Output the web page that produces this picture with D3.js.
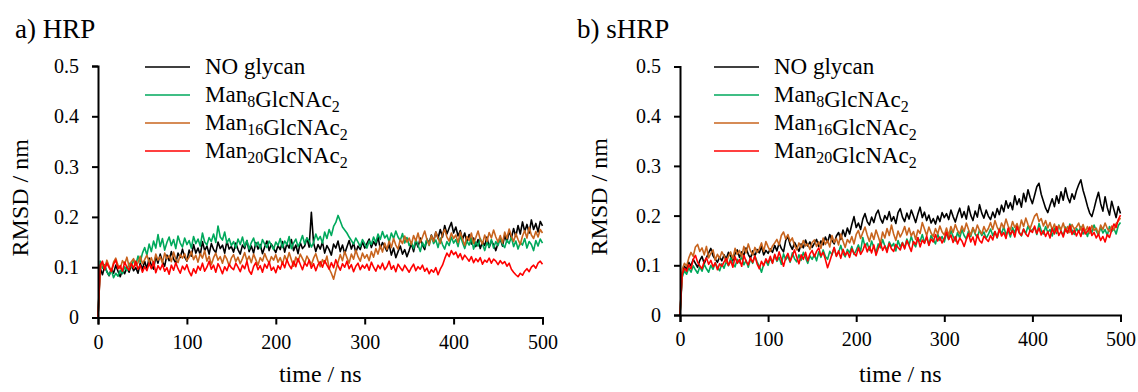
<!DOCTYPE html>
<html>
<head>
<meta charset="utf-8">
<script src="https://cdn.jsdelivr.net/npm/d3@7"></script>
<style>
  body { margin: 0; background: #fff; }
  svg { display: block; }
</style>
</head>
<body>
<div id="chart"></div>
<script>
const FONT = 'Liberation Serif';

// time axis (ns), one frame every 2.5 ns
const time = d3.range(0, 500.01, 2.5);

const seriesLabels = [
  [['NO glycan', null]],
  [['Man', '8'], ['GlcNAc', '2']],
  [['Man', '16'], ['GlcNAc', '2']],
  [['Man', '20'], ['GlcNAc', '2']]
];
const colors = ['#000000', '#00a95c', '#c8641e', '#ff0000'];
const yTicks = [0, 0.1, 0.2, 0.3, 0.4, 0.5];
const xTicks = [0, 100, 200, 300, 400, 500];

// a) HRP
const hrpNoGlycan = [0,
  0.098, 0.085, 0.102, 0.091, 0.083, 0.097, 0.088, 0.104, 0.092, 0.081, 0.095, 0.087, 0.100, 0.090, 0.106, 0.093, 0.099, 0.088, 0.108, 0.096,
  0.112, 0.097, 0.118, 0.104, 0.096, 0.121, 0.108, 0.126, 0.111, 0.102, 0.124, 0.113, 0.131, 0.116, 0.108, 0.128, 0.119, 0.136, 0.120, 0.112,
  0.134, 0.122, 0.145, 0.128, 0.138, 0.124, 0.151, 0.133, 0.142, 0.126, 0.147, 0.135, 0.129, 0.150, 0.137, 0.144, 0.128, 0.152, 0.136, 0.141,
  0.130, 0.148, 0.135, 0.126, 0.144, 0.137, 0.153, 0.131, 0.142, 0.128, 0.149, 0.136, 0.145, 0.127, 0.140, 0.152, 0.133, 0.146, 0.138, 0.129,
  0.143, 0.135, 0.151, 0.130, 0.147, 0.138, 0.155, 0.133, 0.144, 0.127, 0.149, 0.137, 0.142, 0.158, 0.140, 0.209, 0.148, 0.131, 0.145, 0.136,
  0.150, 0.128, 0.143, 0.135, 0.124, 0.146, 0.138, 0.152, 0.131, 0.144, 0.127, 0.140, 0.153, 0.136, 0.148, 0.129, 0.142, 0.135, 0.150, 0.138,
  0.147, 0.156, 0.139, 0.151, 0.143, 0.160, 0.137, 0.149, 0.141, 0.132, 0.145, 0.124, 0.138, 0.119, 0.131, 0.142, 0.126, 0.135, 0.121, 0.133,
  0.147, 0.131, 0.152, 0.140, 0.158, 0.144, 0.135, 0.156, 0.148, 0.164, 0.151, 0.170, 0.157, 0.175, 0.160, 0.183, 0.166, 0.178, 0.189, 0.168,
  0.180, 0.162, 0.173, 0.155, 0.168, 0.150, 0.165, 0.146, 0.158, 0.141, 0.155, 0.137, 0.150, 0.143, 0.160, 0.139, 0.152, 0.145, 0.133, 0.148,
  0.156, 0.142, 0.163, 0.150, 0.172, 0.158, 0.177, 0.161, 0.183, 0.166, 0.190, 0.171, 0.185, 0.168, 0.194, 0.175, 0.187, 0.170, 0.191, 0.182];
const hrpMan8 = [0,
  0.112, 0.098, 0.105, 0.091, 0.084, 0.095, 0.079, 0.088, 0.082, 0.094, 0.087, 0.101, 0.093, 0.108, 0.099, 0.115, 0.104, 0.122, 0.110, 0.128,
  0.139, 0.124, 0.146, 0.131, 0.152, 0.138, 0.165, 0.141, 0.157, 0.134, 0.149, 0.160, 0.143, 0.155, 0.137, 0.162, 0.148, 0.140, 0.158, 0.145,
  0.153, 0.138, 0.161, 0.147, 0.156, 0.142, 0.168, 0.150, 0.144, 0.159, 0.151, 0.166, 0.149, 0.182, 0.160, 0.154, 0.170, 0.148, 0.157, 0.143,
  0.151, 0.138, 0.156, 0.145, 0.160, 0.141, 0.153, 0.136, 0.149, 0.158, 0.142, 0.150, 0.137, 0.155, 0.146, 0.139, 0.152, 0.144, 0.135, 0.150,
  0.143, 0.157, 0.139, 0.152, 0.145, 0.161, 0.137, 0.148, 0.156, 0.141, 0.150, 0.163, 0.146, 0.158, 0.152, 0.140, 0.149, 0.166, 0.154, 0.161,
  0.148, 0.170, 0.157, 0.175, 0.163, 0.181, 0.189, 0.203, 0.192, 0.180, 0.174, 0.168, 0.160, 0.153, 0.146, 0.158, 0.150, 0.141, 0.155, 0.147,
  0.138, 0.152, 0.145, 0.160, 0.149, 0.166, 0.155, 0.171, 0.158, 0.164, 0.150, 0.168, 0.157, 0.172, 0.160, 0.153, 0.167, 0.148, 0.159, 0.143,
  0.150, 0.137, 0.155, 0.144, 0.131, 0.149, 0.140, 0.156, 0.143, 0.162, 0.147, 0.154, 0.139, 0.158, 0.145, 0.136, 0.151, 0.143, 0.160, 0.148,
  0.155, 0.141, 0.163, 0.149, 0.137, 0.152, 0.144, 0.158, 0.136, 0.150, 0.142, 0.157, 0.146, 0.133, 0.149, 0.140, 0.155, 0.138, 0.151, 0.143,
  0.158, 0.145, 0.139, 0.154, 0.147, 0.160, 0.141, 0.152, 0.136, 0.149, 0.144, 0.157, 0.138, 0.151, 0.145, 0.133, 0.153, 0.142, 0.156, 0.148];
const hrpMan16 = [0,
  0.095, 0.108, 0.099, 0.114, 0.102, 0.092, 0.110, 0.118, 0.104, 0.097, 0.113, 0.106, 0.120, 0.101, 0.111, 0.117, 0.103, 0.109, 0.122, 0.107,
  0.115, 0.124, 0.110, 0.119, 0.105, 0.126, 0.114, 0.121, 0.108, 0.128, 0.117, 0.123, 0.111, 0.130, 0.116, 0.109, 0.125, 0.118, 0.127, 0.113,
  0.120, 0.131, 0.115, 0.124, 0.110, 0.127, 0.118, 0.133, 0.112, 0.122, 0.105, 0.119, 0.128, 0.114, 0.121, 0.108, 0.124, 0.116, 0.103, 0.118,
  0.125, 0.111, 0.120, 0.107, 0.117, 0.129, 0.113, 0.122, 0.109, 0.126, 0.115, 0.104, 0.119, 0.112, 0.127, 0.116, 0.108, 0.121, 0.114, 0.125,
  0.110, 0.119, 0.106, 0.123, 0.113, 0.129, 0.115, 0.102, 0.120, 0.111, 0.126, 0.117, 0.108, 0.122, 0.114, 0.105, 0.118, 0.127, 0.112, 0.101,
  0.115, 0.108, 0.122, 0.097, 0.088, 0.076, 0.094, 0.110, 0.125, 0.113, 0.131, 0.119, 0.108, 0.126, 0.116, 0.134, 0.121, 0.112, 0.128, 0.118,
  0.125, 0.113, 0.131, 0.120, 0.137, 0.126, 0.143, 0.130, 0.148, 0.135, 0.152, 0.139, 0.157, 0.144, 0.136, 0.155, 0.147, 0.162, 0.150, 0.158,
  0.145, 0.163, 0.152, 0.168, 0.149, 0.160, 0.172, 0.155, 0.144, 0.163, 0.151, 0.170, 0.158, 0.147, 0.166, 0.175, 0.160, 0.152, 0.168, 0.157,
  0.164, 0.149, 0.170, 0.156, 0.143, 0.161, 0.153, 0.168, 0.147, 0.159, 0.172, 0.155, 0.146, 0.164, 0.151, 0.169, 0.158, 0.174, 0.160, 0.150,
  0.163, 0.148, 0.170, 0.157, 0.176, 0.162, 0.151, 0.167, 0.155, 0.145, 0.162, 0.173, 0.158, 0.179, 0.164, 0.157, 0.171, 0.160, 0.175, 0.168];
const hrpMan20 = [0,
  0.104, 0.112, 0.095, 0.108, 0.099, 0.091, 0.106, 0.114, 0.097, 0.103, 0.092, 0.110, 0.100, 0.094, 0.107, 0.098, 0.112, 0.096, 0.104, 0.090,
  0.101, 0.093, 0.108, 0.097, 0.111, 0.089, 0.103, 0.095, 0.106, 0.092, 0.099, 0.086, 0.104, 0.094, 0.109, 0.097, 0.088, 0.102, 0.095, 0.105,
  0.091, 0.083, 0.097, 0.088, 0.102, 0.094, 0.108, 0.092, 0.100, 0.112, 0.096, 0.104, 0.090, 0.107, 0.098, 0.087, 0.101, 0.093, 0.106, 0.099,
  0.095, 0.108, 0.100, 0.091, 0.104, 0.097, 0.112, 0.093, 0.086, 0.101, 0.109, 0.095, 0.103, 0.090, 0.106, 0.098, 0.111, 0.094, 0.100, 0.089,
  0.103, 0.096, 0.110, 0.099, 0.115, 0.104, 0.097, 0.112, 0.101, 0.117, 0.106, 0.095, 0.109, 0.102, 0.114, 0.098, 0.107, 0.093, 0.105, 0.111,
  0.100, 0.113, 0.104, 0.096, 0.109, 0.099, 0.115, 0.103, 0.094, 0.107, 0.100, 0.112, 0.097, 0.105, 0.091, 0.102, 0.108, 0.095, 0.104, 0.098,
  0.106, 0.094, 0.110, 0.100, 0.092, 0.104, 0.097, 0.108, 0.095, 0.101, 0.112, 0.096, 0.103, 0.091, 0.106, 0.099, 0.093, 0.104, 0.097, 0.090,
  0.099, 0.106, 0.093, 0.101, 0.096, 0.104, 0.092, 0.098, 0.087, 0.095, 0.090, 0.099, 0.085, 0.096, 0.104, 0.117, 0.128, 0.121, 0.133, 0.125,
  0.130, 0.119, 0.127, 0.115, 0.124, 0.118, 0.112, 0.121, 0.109, 0.117, 0.111, 0.119, 0.106, 0.114, 0.110, 0.118, 0.108, 0.116, 0.112, 0.105,
  0.113, 0.107, 0.111, 0.102, 0.108, 0.096, 0.090, 0.085, 0.081, 0.088, 0.084, 0.092, 0.097, 0.091, 0.100, 0.104, 0.098, 0.108, 0.112, 0.106];

// b) sHRP
const shrpNoGlycan = [0,
  0.085, 0.098, 0.092, 0.106, 0.099, 0.112, 0.104, 0.096, 0.110, 0.118, 0.103, 0.115, 0.125, 0.134, 0.119, 0.112, 0.106, 0.117, 0.109, 0.121,
  0.113, 0.126, 0.118, 0.109, 0.123, 0.131, 0.116, 0.127, 0.120, 0.135, 0.122, 0.114, 0.129, 0.118, 0.132, 0.125, 0.138, 0.121, 0.130, 0.124,
  0.133, 0.126, 0.140, 0.129, 0.145, 0.134, 0.127, 0.150, 0.158, 0.141, 0.132, 0.146, 0.137, 0.128, 0.143, 0.135, 0.151, 0.139, 0.147, 0.136,
  0.144, 0.152, 0.138, 0.149, 0.141, 0.157, 0.146, 0.162, 0.150, 0.143, 0.159, 0.166, 0.152, 0.171, 0.158, 0.175, 0.163, 0.182, 0.198, 0.176,
  0.185, 0.172, 0.193, 0.204, 0.188, 0.181, 0.197, 0.186, 0.203, 0.211, 0.194, 0.185, 0.200, 0.192, 0.208, 0.189, 0.198, 0.184, 0.206, 0.214,
  0.197, 0.188, 0.205, 0.193, 0.211, 0.199, 0.186, 0.203, 0.217, 0.196, 0.207, 0.190, 0.201, 0.185, 0.194, 0.183, 0.199, 0.188, 0.206, 0.196,
  0.204, 0.192, 0.211, 0.198, 0.187, 0.202, 0.215, 0.196, 0.208, 0.193, 0.219, 0.201, 0.190, 0.209, 0.197, 0.222, 0.205, 0.195, 0.211, 0.199,
  0.192, 0.207, 0.196, 0.214, 0.202, 0.221, 0.208, 0.230, 0.215, 0.226, 0.212, 0.240, 0.222, 0.234, 0.217, 0.245, 0.228, 0.252, 0.236, 0.224,
  0.241, 0.258, 0.265, 0.243, 0.229, 0.215, 0.206, 0.221, 0.234, 0.218, 0.240, 0.225, 0.248, 0.231, 0.256, 0.237, 0.226, 0.244, 0.233, 0.250,
  0.262, 0.272, 0.251, 0.236, 0.219, 0.205, 0.198, 0.214, 0.232, 0.247, 0.224, 0.209, 0.238, 0.216, 0.201, 0.229, 0.212, 0.196, 0.218, 0.204];
const shrpMan8 = [0,
  0.076, 0.089, 0.082, 0.095, 0.086, 0.099, 0.091, 0.084, 0.097, 0.088, 0.102, 0.093, 0.086, 0.100, 0.092, 0.105, 0.096, 0.089, 0.103, 0.094,
  0.108, 0.099, 0.115, 0.103, 0.097, 0.112, 0.105, 0.118, 0.101, 0.110, 0.096, 0.113, 0.104, 0.119, 0.107, 0.098, 0.086, 0.102, 0.109, 0.100,
  0.114, 0.105, 0.120, 0.108, 0.116, 0.102, 0.123, 0.111, 0.118, 0.106, 0.125, 0.113, 0.107, 0.121, 0.110, 0.126, 0.115, 0.104, 0.119, 0.112,
  0.122, 0.109, 0.127, 0.116, 0.131, 0.118, 0.112, 0.128, 0.121, 0.135, 0.119, 0.126, 0.140, 0.124, 0.117, 0.132, 0.125, 0.138, 0.122, 0.130,
  0.141, 0.128, 0.156, 0.137, 0.145, 0.130, 0.149, 0.136, 0.126, 0.143, 0.135, 0.152, 0.139, 0.131, 0.147, 0.138, 0.144, 0.129, 0.150, 0.137,
  0.146, 0.135, 0.153, 0.141, 0.158, 0.144, 0.137, 0.155, 0.148, 0.162, 0.146, 0.156, 0.141, 0.160, 0.151, 0.143, 0.163, 0.150, 0.158, 0.147,
  0.165, 0.152, 0.170, 0.158, 0.149, 0.166, 0.155, 0.172, 0.160, 0.153, 0.169, 0.158, 0.175, 0.163, 0.156, 0.171, 0.160, 0.167, 0.154, 0.162,
  0.173, 0.160, 0.168, 0.155, 0.174, 0.163, 0.178, 0.161, 0.170, 0.157, 0.176, 0.165, 0.181, 0.167, 0.159, 0.173, 0.164, 0.179, 0.168, 0.172,
  0.176, 0.162, 0.184, 0.170, 0.163, 0.178, 0.166, 0.172, 0.159, 0.175, 0.164, 0.181, 0.168, 0.160, 0.177, 0.165, 0.183, 0.170, 0.162, 0.174,
  0.167, 0.178, 0.163, 0.171, 0.158, 0.175, 0.166, 0.181, 0.169, 0.161, 0.176, 0.165, 0.172, 0.160, 0.178, 0.168, 0.174, 0.163, 0.180, 0.186];
const shrpMan16 = [0,
  0.092, 0.104, 0.098, 0.115, 0.126, 0.118, 0.137, 0.142, 0.128, 0.135, 0.121, 0.138, 0.115, 0.124, 0.131, 0.110, 0.122, 0.114, 0.127, 0.119,
  0.106, 0.118, 0.127, 0.113, 0.134, 0.122, 0.130, 0.117, 0.138, 0.125, 0.143, 0.129, 0.121, 0.136, 0.126, 0.133, 0.145, 0.128, 0.148, 0.137,
  0.128, 0.139, 0.145, 0.152, 0.141, 0.160, 0.167, 0.153, 0.162, 0.148, 0.155, 0.140, 0.131, 0.145, 0.136, 0.150, 0.139, 0.143, 0.132, 0.146,
  0.151, 0.138, 0.147, 0.134, 0.155, 0.142, 0.150, 0.137, 0.160, 0.146, 0.154, 0.141, 0.163, 0.149, 0.136, 0.152, 0.145, 0.158, 0.143, 0.162,
  0.170, 0.154, 0.166, 0.177, 0.161, 0.148, 0.165, 0.152, 0.171, 0.158, 0.144, 0.167, 0.155, 0.174, 0.160, 0.181, 0.163, 0.150, 0.169, 0.157,
  0.166, 0.178, 0.161, 0.175, 0.159, 0.168, 0.152, 0.171, 0.164, 0.186, 0.173, 0.160, 0.177, 0.165, 0.158, 0.174, 0.163, 0.179, 0.167, 0.161,
  0.175, 0.160, 0.178, 0.166, 0.182, 0.170, 0.163, 0.179, 0.168, 0.185, 0.172, 0.161, 0.176, 0.165, 0.181, 0.170, 0.163, 0.178, 0.167, 0.174,
  0.186, 0.172, 0.190, 0.177, 0.168, 0.185, 0.175, 0.193, 0.179, 0.171, 0.188, 0.176, 0.184, 0.170, 0.191, 0.178, 0.195, 0.182, 0.174, 0.187,
  0.199, 0.204, 0.188, 0.194, 0.179, 0.190, 0.175, 0.186, 0.171, 0.183, 0.168, 0.180, 0.172, 0.185, 0.169, 0.178, 0.166, 0.182, 0.173, 0.177,
  0.185, 0.171, 0.182, 0.168, 0.178, 0.164, 0.180, 0.170, 0.175, 0.163, 0.181, 0.172, 0.185, 0.174, 0.168, 0.179, 0.171, 0.184, 0.189, 0.195];
const shrpMan20 = [0,
  0.082, 0.094, 0.088, 0.101, 0.093, 0.112, 0.120, 0.106, 0.099, 0.093, 0.108, 0.115, 0.102, 0.110, 0.097, 0.105, 0.091, 0.103, 0.098, 0.107,
  0.114, 0.100, 0.109, 0.096, 0.117, 0.104, 0.112, 0.098, 0.120, 0.108, 0.101, 0.115, 0.106, 0.119, 0.103, 0.093, 0.108, 0.099, 0.113, 0.105,
  0.118, 0.104, 0.122, 0.110, 0.127, 0.113, 0.098, 0.115, 0.124, 0.108, 0.119, 0.131, 0.116, 0.103, 0.121, 0.112, 0.126, 0.109, 0.123, 0.130,
  0.117, 0.128, 0.135, 0.119, 0.126, 0.112, 0.095, 0.108, 0.122, 0.136, 0.118, 0.129, 0.114, 0.132, 0.120, 0.127, 0.116, 0.133, 0.124, 0.119,
  0.135, 0.122, 0.130, 0.143, 0.127, 0.138, 0.125, 0.141, 0.120, 0.134, 0.146, 0.130, 0.139, 0.126, 0.144, 0.133, 0.128, 0.142, 0.136, 0.131,
  0.145, 0.133, 0.150, 0.139, 0.128, 0.148, 0.142, 0.156, 0.137, 0.151, 0.144, 0.159, 0.140, 0.153, 0.147, 0.162, 0.149, 0.157, 0.145, 0.154,
  0.167, 0.152, 0.161, 0.146, 0.158, 0.143, 0.155, 0.149, 0.138, 0.152, 0.164, 0.147, 0.157, 0.141, 0.162, 0.150, 0.145, 0.159, 0.153, 0.148,
  0.160, 0.151, 0.168, 0.156, 0.172, 0.159, 0.166, 0.154, 0.175, 0.162, 0.170, 0.157, 0.178, 0.165, 0.160, 0.173, 0.163, 0.158, 0.171, 0.166,
  0.179, 0.164, 0.175, 0.161, 0.170, 0.158, 0.168, 0.155, 0.174, 0.163, 0.178, 0.160, 0.169, 0.157, 0.173, 0.165, 0.180, 0.162, 0.171, 0.159,
  0.170, 0.158, 0.175, 0.163, 0.168, 0.177, 0.160, 0.166, 0.155, 0.163, 0.150, 0.158, 0.147, 0.162, 0.156, 0.171, 0.183, 0.176, 0.192, 0.201];

const width = 1138;
const height = 392;

const svg = d3.select('#chart').append('svg')
  .attr('width', width)
  .attr('height', height)
  .attr('font-family', FONT);

function drawPanel(cfg) {
  const x = d3.scaleLinear().domain([0, 500]).range([cfg.x0, cfg.x1]);
  const y = d3.scaleLinear().domain([0, 0.5]).range([cfg.y0, cfg.y1]);
  const g = svg.append('g');

  // title
  g.append('text')
    .attr('x', cfg.titleX)
    .attr('y', 38)
    .attr('font-family', FONT)
    .attr('font-size', 27)
    .text(cfg.title);

  // data lines
  const line = d3.line()
    .x((d, i) => x(time[i]))
    .y(d => y(d));

  cfg.series.forEach((s, i) => {
    g.append('path')
      .datum(s)
      .attr('fill', 'none')
      .attr('stroke', colors[i])
      .attr('stroke-width', 1.6)
      .attr('stroke-linejoin', 'round')
      .attr('d', line);
  });

  // axes
  const yAxis = g.append('g')
    .attr('transform', `translate(${cfg.x0},0)`)
    .call(d3.axisLeft(y).tickValues(yTicks).tickSize(6).tickPadding(13)
      .tickFormat(d => d === 0 ? '0' : d3.format('.1f')(d)));
  const xAxis = g.append('g')
    .attr('transform', `translate(0,${cfg.y0})`)
    .call(d3.axisBottom(x).tickValues(xTicks).tickSize(7).tickPadding(10));

  [yAxis, xAxis].forEach(ax => {
    ax.attr('font-family', FONT).attr('font-size', 20);
    ax.select('.domain').attr('stroke', '#000').attr('stroke-width', 2);
    ax.selectAll('.tick line').attr('stroke', '#000').attr('stroke-width', 2);
    ax.selectAll('.tick text')
      .attr('font-family', FONT)
      .attr('font-size', 20)
      .attr('fill', '#000');
  });

  // axis titles
  g.append('text')
    .attr('transform', `translate(${cfg.x0 - cfg.yTitleGap},${(cfg.y0 + cfg.y1) / 2 + 6}) rotate(-90)`)
    .attr('text-anchor', 'middle')
    .attr('font-family', FONT)
    .attr('font-size', 24)
    .text('RMSD / nm');
  g.append('text')
    .attr('x', (cfg.x0 + cfg.x1) / 2)
    .attr('y', 382)
    .attr('text-anchor', 'middle')
    .attr('font-family', FONT)
    .attr('font-size', 24)
    .text('time / ns');

  // legend
  const leg = g.append('g');
  seriesLabels.forEach((parts, i) => {
    const ly = 67 + i * 28;
    leg.append('line')
      .attr('x1', cfg.legX)
      .attr('x2', cfg.legX + 45)
      .attr('y1', ly)
      .attr('y2', ly)
      .attr('stroke', colors[i])
      .attr('stroke-width', 1.5);
    const t = leg.append('text')
      .attr('x', cfg.legX + 60)
      .attr('y', ly + 7)
      .attr('font-family', FONT)
      .attr('font-size', 23);
    parts.forEach(p => {
      t.append('tspan').text(p[0]);
      if (p[1]) {
        t.append('tspan').attr('font-size', 16).attr('dy', 5).text(p[1]);
        t.append('tspan').attr('dy', -5).text('');
      }
    });
  });
}

drawPanel({
  title: 'a) HRP', titleX: 15,
  x0: 98, x1: 542.5, y0: 317.5, y1: 66,
  legX: 145, yTitleGap: 70,
  series: [hrpNoGlycan, hrpMan8, hrpMan16, hrpMan20]
});

drawPanel({
  title: 'b) sHRP', titleX: 577,
  x0: 680, x1: 1120.5, y0: 315, y1: 66.5,
  legX: 714, yTitleGap: 73,
  series: [shrpNoGlycan, shrpMan8, shrpMan16, shrpMan20]
});
</script>
</body>
</html>
